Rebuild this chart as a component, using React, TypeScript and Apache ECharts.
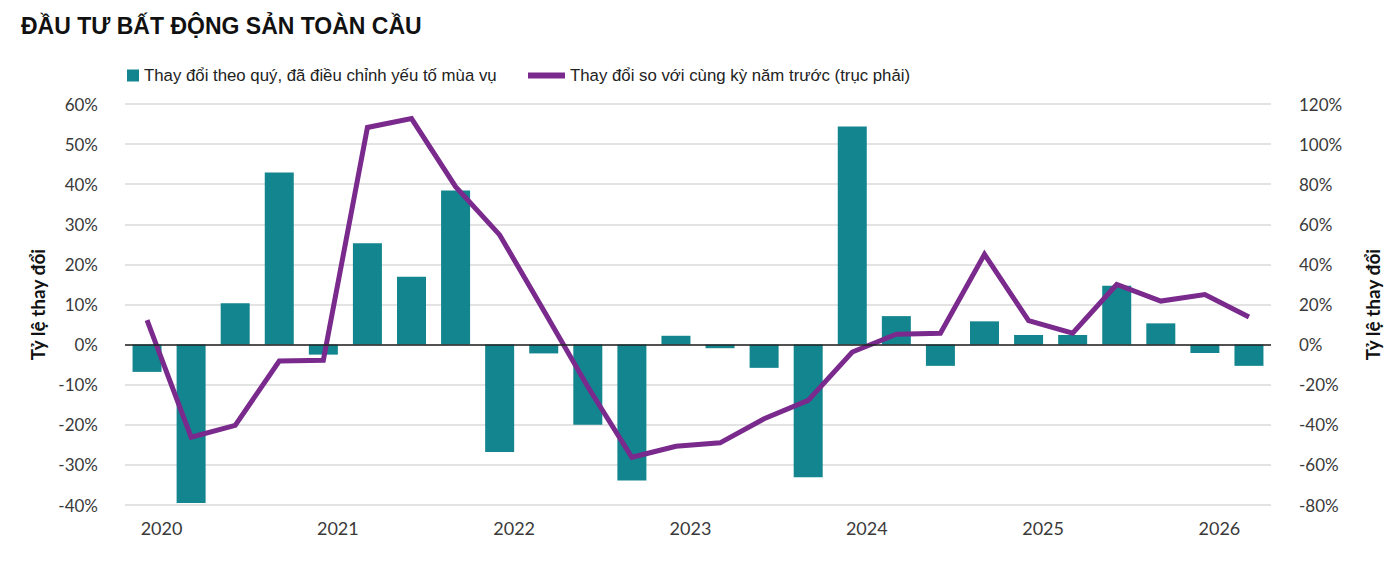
import React, { useEffect, useRef } from "react";
import * as echarts from "echarts";

const quarters: string[] = [
  "2020 Q1", "2020 Q2", "2020 Q3", "2020 Q4",
  "2021 Q1", "2021 Q2", "2021 Q3", "2021 Q4",
  "2022 Q1", "2022 Q2", "2022 Q3", "2022 Q4",
  "2023 Q1", "2023 Q2", "2023 Q3", "2023 Q4",
  "2024 Q1", "2024 Q2", "2024 Q3", "2024 Q4",
  "2025 Q1", "2025 Q2", "2025 Q3", "2025 Q4",
  "2026 Q1", "2026 Q2",
];

// Quarterly change, seasonally adjusted (left axis, %)
const qoqChange: number[] = [
  -6.8, -39.5, 10.3, 42.9, -2.5, 25.3, 16.9, 38.4,
  -26.8, -2.2, -20.0, -33.9, 2.2, -0.9, -5.8, -33.1,
  54.4, 7.1, -5.3, 5.8, 2.4, 2.4, 14.7, 5.3, -2.1, -5.3,
];

// Year-over-year change (right axis, %)
const yoyChange: number[] = [
  12.2, -46.2, -40.3, -8.2, -7.8, 108.3, 112.7, 78.8,
  54.7, 17.0, -21.0, -56.2, -50.7, -49.0, -37.0, -27.8,
  -3.7, 5.2, 5.7, 45.0, 12.0, 5.7, 30.0, 21.7, 25.0, 13.8,
];

const titleText = "ĐẦU TƯ BẤT ĐỘNG SẢN TOÀN CẦU";
const barName = "Thay đổi theo quý, đã điều chỉnh yếu tố mùa vụ";
const lineName = "Thay đổi so với cùng kỳ năm trước (trục phải)";
const axisTitle = "Tỷ lệ thay đổi";

const TEAL = "#13858f";
const PURPLE = "#7a2a8c";

export default function App() {
  const ref = useRef<HTMLDivElement | null>(null);

  useEffect(() => {
    document.body.style.margin = "0";
    if (!ref.current) return;
    const chart = echarts.init(ref.current, undefined, { renderer: "svg" });
    const labelFont = "Lato, 'Open Sans', sans-serif";
    const legendFont = "'Liberation Sans', Arial, sans-serif";
    chart.setOption({
      animation: false,
      backgroundColor: "#ffffff",
      title: {
        text: titleText,
        left: 16,
        top: 9,
        textStyle: {
          fontFamily: "'Liberation Sans', Arial, sans-serif",
          fontWeight: "bold",
          fontSize: 23,
          color: "#111111",
        },
      },
      legend: [
        {
          data: [{ name: barName, icon: "rect" }],
          left: 122,
          top: 62,
          itemWidth: 12,
          itemHeight: 12,
          itemGap: 10,
          textStyle: {
            fontFamily: legendFont,
            fontSize: 16.8,
            color: "#222222",
          },
        },
        {
          data: [{ name: lineName, icon: "rect" }],
          left: 523,
          top: 62,
          itemWidth: 37,
          itemHeight: 6,
          itemGap: 12,
          textStyle: {
            fontFamily: legendFont,
            fontSize: 16.8,
            color: "#222222",
          },
        },
      ],
      grid: { left: 125, right: 118, top: 104, bottom: 66 },
      xAxis: {
        type: "category",
        data: quarters,
        boundaryGap: true,
        axisLine: { show: false, onZero: false },
        axisTick: { show: false },
        splitLine: { show: false },
        axisLabel: {
          interval: (idx: number) => idx % 4 === 0,
          margin: 14,
          formatter: (v: string) => "{a|" + v.slice(0, 4) + "}",
          rich: {
            a: {
              fontFamily: labelFont,
              fontSize: 18,
              color: "#3a3a3a",
              padding: [0, 0, 0, 29],
            },
          },
        },
      },
      yAxis: [
        {
          type: "value",
          min: -40,
          max: 60,
          interval: 10,
          name: axisTitle,
          nameLocation: "middle",
          nameRotate: 90,
          nameGap: 78,
          nameTextStyle: {
            fontFamily: labelFont,
            fontWeight: "bold",
            fontSize: 19,
            color: "#111111",
          },
          axisLine: { show: false },
          axisTick: { show: false },
          axisLabel: {
            formatter: "{value}%",
            margin: 27,
            fontFamily: labelFont,
            fontSize: 17,
            color: "#3a3a3a",
          },
          splitLine: { show: true, lineStyle: { color: "#dadada", width: 1.5 } },
        },
        {
          type: "value",
          min: -80,
          max: 120,
          interval: 20,
          name: axisTitle,
          nameLocation: "middle",
          nameRotate: 90,
          nameGap: 92,
          nameTextStyle: {
            fontFamily: labelFont,
            fontWeight: "bold",
            fontSize: 19,
            color: "#111111",
          },
          axisLine: { show: false },
          axisTick: { show: false },
          axisLabel: {
            formatter: "{value}%",
            margin: 28,
            fontFamily: labelFont,
            fontSize: 17,
            color: "#3a3a3a",
          },
          splitLine: { show: false },
        },
      ],
      series: [
        {
          name: barName,
          type: "bar",
          data: qoqChange,
          yAxisIndex: 0,
          barWidth: 29,
          z: 2,
          itemStyle: { color: TEAL },
          markLine: {
            silent: true,
            symbol: "none",
            label: { show: false },
            lineStyle: { color: "#222222", width: 1.5, type: "solid" },
            data: [{ yAxis: 0 }],
          },
        },
        {
          name: lineName,
          type: "line",
          data: yoyChange,
          yAxisIndex: 1,
          z: 4,
          showSymbol: false,
          symbol: "none",
          lineStyle: { color: PURPLE, width: 5, join: "miter" },
          itemStyle: { color: PURPLE },
        },
      ],
    });
    return () => chart.dispose();
  }, []);

  return <div ref={ref} style={{ width: 1390, height: 571 }} />;
}
